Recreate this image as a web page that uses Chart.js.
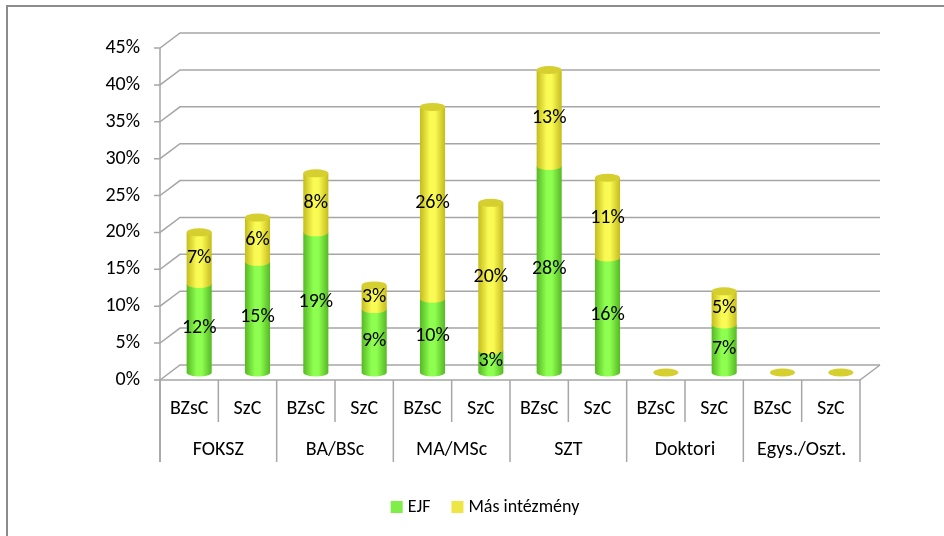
<!DOCTYPE html>
<html>
<head>
<meta charset="utf-8">
<script src="https://cdn.jsdelivr.net/npm/chart.js@4.4.1/dist/chart.umd.min.js"></script>
<style>
  html, body { margin: 0; padding: 0; background: #fff; }
  canvas { display: block; }
</style>
</head>
<body>
<canvas id="chart" width="944" height="536"></canvas>
<script>
// Kategóriák (két szintű tengely)
const groupLabels = ['FOKSZ', 'BA/BSc', 'MA/MSc', 'SZT', 'Doktori', 'Egys./Oszt.'];
const subLabels = ['BZsC', 'SzC'];
const categories = groupLabels.flatMap(g => subLabels.map(s => s));

// Értékek (%)
const ejfValues = [12, 15, 19, 8.6, 10, 3, 28, 15.6, 0, 6.5, 0, 0];
const masValues = [7, 6, 8, 3.2, 26, 20, 13, 10.8, 0, 4.5, 0, 0];
const seriesNames = ['EJF', 'Más intézmény'];

// Y tengely
const yMax = 45;
const yStep = 5;

document.addEventListener('DOMContentLoaded', () => {
    const FONT = "Carlito, Lato, 'Open Sans', sans-serif";
    const FONT_SIZE = 20;
    const GRID = '#a6a6a6';
    const DX = 20, DY = -15;          // mélység eltolás (hátfal)
    const BX = DX / 2, BY = DY / 2;   // oszlopok a mélység közepén

    const palette = [
        { legend: '#80ee48', edge: '#56b824', mid: '#8eff50', cap: '#7ad83e' },
        { legend: '#eee645', edge: '#c4bc1c', mid: '#fafa55', cap: '#d6cf30' }
    ];

    function cylGradient(ctx, x, rx, col) {
        const g = ctx.createLinearGradient(x - rx, 0, x + rx, 0);
        g.addColorStop(0, col.edge);
        g.addColorStop(0.4, col.mid);
        g.addColorStop(0.6, col.mid);
        g.addColorStop(1, col.edge);
        return g;
    }

    function drawSegment(ctx, bar, col, isTop) {
        const x = bar.x + BX;
        const top = bar.y + BY;
        const base = bar.base + BY;
        const rx = bar.width / 2, ry = 4;
        if (base - top > 0.5) {
            ctx.fillStyle = cylGradient(ctx, x, rx, col);
            ctx.beginPath();
            ctx.moveTo(x - rx, top);
            ctx.lineTo(x - rx, base);
            ctx.ellipse(x, base, rx, ry, 0, Math.PI, 0, true);
            ctx.lineTo(x + rx, top);
            ctx.closePath();
            ctx.fill();
        }
        if (isTop) {
            ctx.fillStyle = col.cap;
            ctx.beginPath();
            ctx.ellipse(x, top, rx, ry, 0, 0, Math.PI * 2);
            ctx.fill();
        }
    }

    const chartDecor = {
        id: 'chartDecor',
        beforeDatasetsDraw(chart) {
            const ctx = chart.ctx;
            const xs = chart.scales.x, ys = chart.scales.y;
            const left = xs.left, right = xs.right;
            const floorY = ys.getPixelForValue(0);

            ctx.save();
            // keret
            ctx.strokeStyle = '#8c8c8c';
            ctx.lineWidth = 2;
            ctx.beginPath();
            ctx.moveTo(7, 536);
            ctx.lineTo(7, 6);
            ctx.lineTo(944, 6);
            ctx.stroke();

            // rácsvonalak + tengely
            ctx.strokeStyle = GRID;
            ctx.lineWidth = 1.5;
            ys.ticks.forEach(t => {
                const py = ys.getPixelForValue(t.value);
                ctx.beginPath();
                ctx.moveTo(left - 6, py);
                ctx.lineTo(left, py);
                ctx.lineTo(left + DX, py + DY);
                ctx.lineTo(right + DX, py + DY);
                ctx.stroke();
            });
            ctx.beginPath();
            ctx.moveTo(left, ys.getPixelForValue(yMax));
            ctx.lineTo(left, floorY + 82);
            ctx.moveTo(left, floorY);
            ctx.lineTo(right, floorY);
            ctx.lineTo(right + DX, floorY + DY);
            ctx.stroke();

            // kategória táblázat
            const cell = (right - left) / categories.length;
            for (let k = 0; k <= categories.length; k++) {
                const px = left + k * cell;
                ctx.beginPath();
                ctx.moveTo(px, floorY);
                ctx.lineTo(px, floorY + (k % 2 === 0 ? 82 : 42));
                ctx.stroke();
            }

            ctx.fillStyle = '#000';
            ctx.font = FONT_SIZE + 'px ' + FONT;
            ctx.textAlign = 'center';
            ctx.textBaseline = 'middle';
            categories.forEach((c, i) => {
                ctx.fillText(c, xs.getPixelForValue(i), floorY + 29);
            });
            groupLabels.forEach((g, i) => {
                const px = (xs.getPixelForValue(i * 2) + xs.getPixelForValue(i * 2 + 1)) / 2;
                ctx.fillText(g, px, floorY + 70);
            });

            // Y feliratok
            ctx.textAlign = 'right';
            ys.ticks.forEach(t => {
                ctx.fillText(t.value + '%', left - 20, ys.getPixelForValue(t.value));
            });
            ctx.restore();
        },
        beforeDatasetDraw() {
            return false; // a hengereket mi rajzoljuk
        },
        afterDatasetsDraw(chart) {
            const ctx = chart.ctx;
            const metas = chart.data.datasets.map((d, i) => chart.getDatasetMeta(i));
            ctx.save();
            categories.forEach((c, i) => {
                metas.forEach((meta, di) => {
                    drawSegment(ctx, meta.data[i], palette[di], di === metas.length - 1);
                });
            });

            // adatfeliratok
            ctx.fillStyle = '#000';
            ctx.font = FONT_SIZE + 'px ' + FONT;
            ctx.textAlign = 'center';
            ctx.textBaseline = 'middle';
            metas.forEach((meta, di) => {
                const values = chart.data.datasets[di].data;
                meta.data.forEach((bar, i) => {
                    if (!values[i]) return;
                    ctx.fillText(Math.round(values[i]) + '%', bar.x + BX, (bar.y + bar.base) / 2 + BY);
                });
            });

            // jelmagyarázat
            ctx.font = '18px ' + FONT;
            const gap = 21, box = 12, pad = 5;
            const widths = seriesNames.map(n => ctx.measureText(n).width);
            const total = widths.reduce((a, w) => a + box + pad + w, 0) + gap * (seriesNames.length - 1);
            let lx = 485 - total / 2;
            const ly = 507;
            ctx.textAlign = 'left';
            seriesNames.forEach((n, i) => {
                ctx.fillStyle = palette[i].legend;
                ctx.fillRect(lx, ly - box / 2, box, box);
                ctx.fillStyle = '#000';
                ctx.fillText(n, lx + box + pad, ly);
                lx += box + pad + widths[i] + gap;
            });
            ctx.restore();
        }
    };

    new Chart(document.getElementById('chart'), {
        type: 'bar',
        data: {
            labels: categories,
            datasets: [
                { label: seriesNames[0], data: ejfValues, backgroundColor: palette[0].legend },
                { label: seriesNames[1], data: masValues, backgroundColor: palette[1].legend }
            ]
        },
        options: {
            responsive: false,
            animation: false,
            layout: { padding: { left: 160, right: 84, top: 48, bottom: 156 } },
            datasets: { bar: { categoryPercentage: 1, barPercentage: 0.43 } },
            scales: {
                x: { stacked: true, display: false },
                y: { stacked: true, display: false, min: 0, max: yMax, ticks: { stepSize: yStep } }
            },
            plugins: {
                legend: { display: false },
                tooltip: { enabled: false }
            }
        },
        plugins: [chartDecor]
    });
});
</script>
</body>
</html>
